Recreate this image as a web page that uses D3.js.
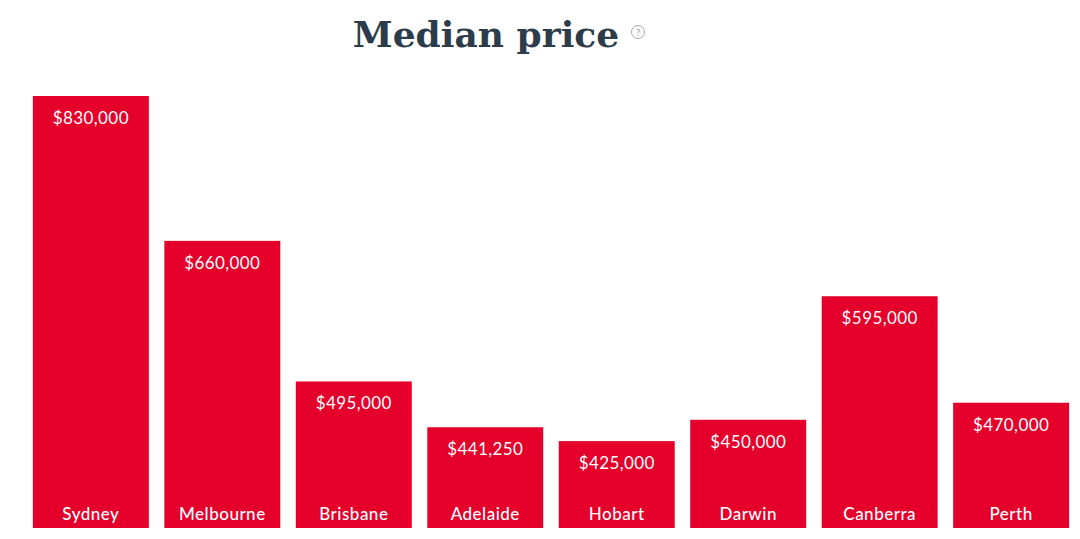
<!DOCTYPE html>
<html><head><meta charset="utf-8">
<script src="https://cdn.jsdelivr.net/npm/d3@7"></script>
<style>body{margin:0;background:#fff;}svg{display:block;}</style>
</head><body>
<script>
const categories = ["Sydney","Melbourne","Brisbane","Adelaide","Hobart","Darwin","Canberra","Perth"];
const values = [830000,660000,495000,441250,425000,450000,595000,470000];
const valueLabels = ["$830,000","$660,000","$495,000","$441,250","$425,000","$450,000","$595,000","$470,000"];
const title = "Median price";

const W = 1080, H = 539;
const svg = d3.select("body").append("svg").attr("width", W).attr("height", H);

const x = d3.scaleBand().domain(categories).range([25, 1077]).paddingInner(0.118).paddingOuter(0.06);
const y = d3.scaleLinear().domain([323000, 830000]).range([528, 96]);

const g = svg.append("g");
const bars = g.selectAll("g.bar").data(categories).join("g").attr("class","bar");
bars.append("rect")
  .attr("x", d => x(d)).attr("width", x.bandwidth())
  .attr("y", (d,i) => y(values[i])).attr("height", (d,i) => y.range()[0] - y(values[i]))
  .attr("fill", "#e4002b");
bars.append("text")
  .attr("x", d => x(d) + x.bandwidth()/2).attr("y", (d,i) => y(values[i]) + 28)
  .attr("text-anchor","middle").attr("fill","#fff")
  .style("font-family","Lato").style("font-size","17px").style("letter-spacing","0.4px")
  .text((d,i) => valueLabels[i]);
bars.append("text")
  .attr("x", d => x(d) + x.bandwidth()/2).attr("y", 520)
  .attr("text-anchor","middle").attr("fill","#fff")
  .style("font-family","Lato").style("font-size","17px").style("font-weight","500").style("letter-spacing","0.5px")
  .text(d => d);

const t = svg.append("text").attr("x", 486).attr("y", 47).attr("text-anchor","middle")
  .attr("fill","#2d3c4a").style("font-family","DejaVu Serif").style("font-weight","bold")
  .style("font-size","36px").text(title);
svg.append("circle").attr("cx", 638).attr("cy", 32).attr("r", 6.5)
  .attr("fill","none").attr("stroke","#aaa").attr("stroke-width",1);
svg.append("text").attr("x", 638).attr("y", 35.5).attr("text-anchor","middle")
  .attr("fill","#999").style("font-family","Lato").style("font-size","9px").text("?");
</script>
</body></html>
